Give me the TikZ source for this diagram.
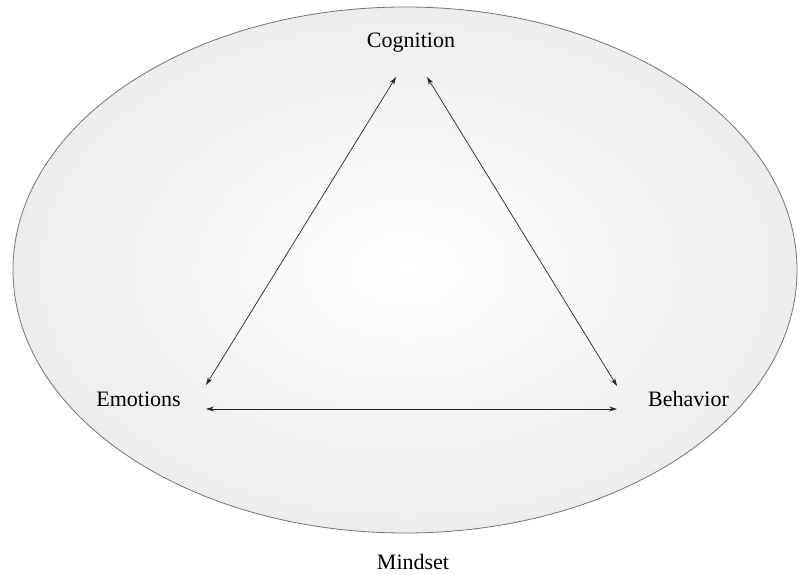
\documentclass[tikz,border=0pt]{standalone}
\usepackage{fontspec}
\setmainfont{Liberation Serif}
\usetikzlibrary{arrows.meta}
\tikzset{
  word/.style={anchor=base,inner sep=0pt,font=\fontsize{22}{26}\selectfont},
  link/.style={{Stealth[length=8pt,width=5pt]}-{Stealth[length=8pt,width=5pt]},line width=0.7pt,draw=black!85},
  mindset/.style={draw=black!55,line width=0.8pt,shading=radial,inner color=white,outer color=black!7}
}

\begin{document}
\begin{tikzpicture}[x=1pt,y=1pt]
    \useasboundingbox (0,0) rectangle (800,575);
    %
    % -- Mindset ellipse
    \path[mindset] (405,305) ellipse [x radius=392,y radius=263];

    % -- The three corners
    \node[word] (cog)  at (411,527) {Cognition};
    \node[word] (emo)  at (138.5,168) {Emotions};
    \node[word] (beh)  at (688.5,168) {Behavior};
    \node[word] (mind) at (413,5) {Mindset};

    % -- Arrow ends
    \coordinate (cogL) at (396,498);
    \coordinate (cogR) at (427,498);
    \coordinate (emoT) at (206,190);
    \coordinate (emoR) at (206,166);
    \coordinate (behT) at (617,189);
    \coordinate (behL) at (617,166);

    % -- Links
    \draw[link] (cogL) -- (emoT);
    \draw[link] (cogR) -- (behT);
    \draw[link] (emoR) -- (behL);
\end{tikzpicture}
\end{document}
